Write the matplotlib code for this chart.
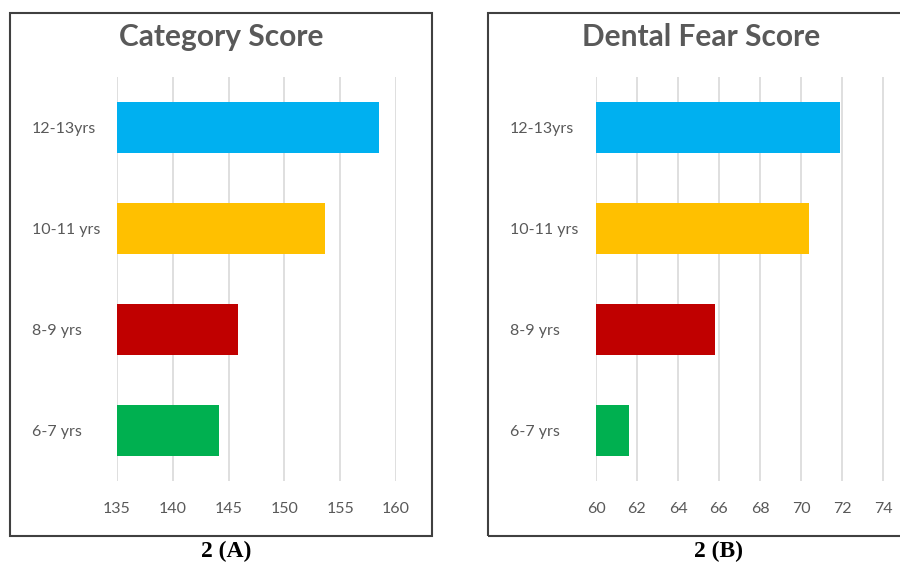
import matplotlib
matplotlib.use("Agg")
import matplotlib.pyplot as plt
from matplotlib.patches import Rectangle

# Age groups, bottom to top
age_groups = ["6-7 yrs", "8-9 yrs", "10-11 yrs", "12-13yrs"]
bar_colors = ["#00B050", "#C00000", "#FFC000", "#00B0F0"]

category_score = [144.1, 145.8, 153.6, 158.5]
category_ticks = [135, 140, 145, 150, 155, 160]

fear_score = [61.6, 65.8, 70.4, 71.9]
fear_ticks = [60, 62, 64, 66, 68, 70, 72, 74]

W, H = 900, 565
fig = plt.figure(figsize=(W / 100, H / 100), dpi=100)

TEXT_GRAY = "#595959"
GRID_GRAY = "#D9D9D9"
FONT = ["Lato", "DejaVu Sans"]


def px_box(x0, x1, y_top, y_bot):
    return [x0 / W, 1 - y_bot / H, (x1 - x0) / W, (y_bot - y_top) / H]


def panel(ax, values, ticks, xlim, label_px, title, title_x, caption, caption_x):
    ax.barh(range(len(values)), [v - xlim[0] for v in values], left=xlim[0],
            height=0.5, color=bar_colors, zorder=3)
    ax.set_xlim(*xlim)
    ax.set_ylim(-0.5, len(values) - 0.5)
    ax.set_xticks(ticks)
    ax.set_xticklabels([str(t) for t in ticks], family=FONT, fontsize=11.5,
                       color=TEXT_GRAY)
    ax.set_yticks(range(len(values)))
    ax.set_yticklabels(age_groups, family=FONT, fontsize=11.5, color=TEXT_GRAY)
    ax.tick_params(axis="both", length=0)
    ax.tick_params(axis="x", pad=15)
    # left-align the category names at a fixed pixel column
    bbox = ax.get_position()
    x_axes = (label_px / W - bbox.x0) / bbox.width
    for lab in ax.get_yticklabels():
        lab.set_horizontalalignment("left")
    ax.tick_params(axis="y", pad=(bbox.x0 * W - label_px) * 0.72)
    ax.xaxis.grid(True, color=GRID_GRAY, linewidth=1.2, zorder=0)
    for s in ax.spines.values():
        s.set_visible(False)
    fig.text(title_x / W, 1 - 37 / H, title, ha="center", va="center",
             family=FONT, fontsize=21.5, fontweight="bold", color=TEXT_GRAY)
    fig.text(caption_x / W, 1 - 551 / H, caption, ha="center", va="center",
             family="Liberation Serif", fontsize=17, fontweight="bold",
             color="black")


# Left panel: Category Score
ax1 = fig.add_axes(px_box(117, 396, 77, 481))
panel(ax1, category_score, category_ticks, (135, 160), 32, "Category Score",
      221, "2 (A)", 226)

# Right panel: Dental Fear Score
ax2 = fig.add_axes(px_box(596, 924, 77, 481))
panel(ax2, fear_score, fear_ticks, (60, 76), 510, "Dental Fear Score", 701,
      "2 (B)", 718)

# Frames around each chart
for x0, x1 in [(10, 432), (488, 960)]:
    fig.patches.append(Rectangle((x0 / W, 1 - 536 / H), (x1 - x0) / W,
                                 (536 - 13) / H, transform=fig.transFigure,
                                 fill=False, edgecolor="#404040",
                                 linewidth=1.5, clip_on=False))

fig.savefig("out.png", dpi=100)
